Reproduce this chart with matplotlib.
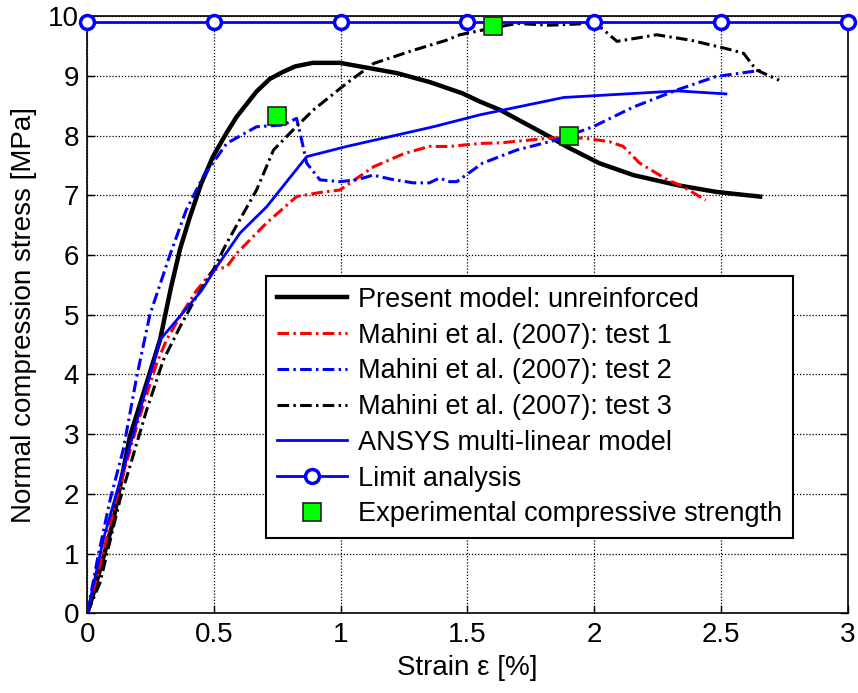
import matplotlib
matplotlib.use("Agg")
import matplotlib.pyplot as plt
import numpy as np

plt.rcParams['font.family'] = ['Liberation Sans', 'DejaVu Sans']

# Present model: unreinforced
pm_x = [0, 0.024, 0.1, 0.168, 0.23, 0.287, 0.33, 0.366, 0.405, 0.45, 0.496, 0.55, 0.59, 0.668, 0.72, 0.773, 0.82, 0.89, 0.997, 1.115, 1.22, 1.35, 1.48, 1.55, 1.63, 1.73, 1.826, 1.89, 2.02, 2.155, 2.33, 2.48, 2.565, 2.655]
pm_y = [0, 0.33, 1.5, 2.96, 3.8, 4.58, 5.45, 6.1, 6.64, 7.2, 7.65, 8.05, 8.32, 8.74, 8.95, 9.07, 9.16, 9.22, 9.22, 9.13, 9.05, 8.9, 8.71, 8.57, 8.43, 8.2, 7.98, 7.82, 7.54, 7.34, 7.17, 7.06, 7.02, 6.98]

# Mahini et al. (2007): test 1
t1_x = [0, 0.05, 0.12, 0.2, 0.274, 0.313, 0.366, 0.43, 0.497, 0.55, 0.59, 0.708, 0.826, 0.92, 0.997, 1.13, 1.25, 1.35, 1.43, 1.55, 1.63, 1.826, 1.96, 2.06, 2.115, 2.18, 2.29, 2.35, 2.44]
t1_y = [0, 0.8, 2.0, 3.2, 4.19, 4.58, 4.97, 5.4, 5.75, 5.8, 6.03, 6.54, 6.98, 7.05, 7.09, 7.48, 7.7, 7.82, 7.82, 7.87, 7.88, 7.96, 7.96, 7.9, 7.82, 7.54, 7.26, 7.15, 6.92]

# Mahini et al. (2007): test 2
t2_x = [0, 0.04, 0.09, 0.142, 0.195, 0.247, 0.326, 0.39, 0.457, 0.55, 0.668, 0.773, 0.826, 0.84, 0.866, 0.918, 0.997, 1.063, 1.128, 1.2, 1.286, 1.35, 1.39, 1.43, 1.458, 1.56, 1.695, 1.852, 1.996, 2.155, 2.33, 2.48, 2.615, 2.667]
t2_y = [0, 0.9, 1.9, 2.74, 3.96, 5.0, 6.0, 6.75, 7.31, 7.87, 8.15, 8.18, 8.29, 8.04, 7.54, 7.26, 7.23, 7.26, 7.34, 7.27, 7.21, 7.21, 7.29, 7.23, 7.23, 7.54, 7.76, 7.93, 8.15, 8.48, 8.77, 8.99, 9.07, 9.1]

# Mahini et al. (2007): test 3
t3_x = [0, 0.05, 0.129, 0.234, 0.3, 0.366, 0.43, 0.497, 0.55, 0.668, 0.735, 0.813, 0.892, 1.024, 1.13, 1.286, 1.418, 1.47, 1.56, 1.695, 1.826, 1.98, 2.03, 2.09, 2.247, 2.38, 2.52, 2.59, 2.64, 2.73]
t3_y = [0, 0.51, 1.9, 3.4, 4.24, 4.8, 5.3, 5.75, 6.2, 7.09, 7.76, 8.1, 8.43, 8.88, 9.21, 9.43, 9.6, 9.69, 9.77, 9.88, 9.85, 9.88, 9.8, 9.58, 9.69, 9.6, 9.46, 9.38, 9.1, 8.93]

# ANSYS multi-linear model
an_x = [0, 0.063, 0.287, 0.45, 0.51, 0.603, 0.708, 0.866, 1.024, 1.366, 1.55, 1.88, 2.33, 2.52]
an_y = [0, 1.23, 4.58, 5.4, 5.8, 6.37, 6.81, 7.65, 7.82, 8.15, 8.35, 8.64, 8.75, 8.70]

# Limit analysis
la_x = [0, 0.5, 1.0, 1.5, 2.0, 2.5, 3.0]
la_y = [9.9, 9.9, 9.9, 9.9, 9.9, 9.9, 9.9]

# Experimental compressive strength
ex_x = [0.75, 1.6, 1.9]
ex_y = [8.33, 9.83, 8.0]

xticks = [0, 0.5, 1, 1.5, 2, 2.5, 3]
xticklabels = ['0', '0.5', '1', '1.5', '2', '2.5', '3']
yticks = list(range(0, 11))

fig = plt.figure(figsize=(8.58, 6.93), dpi=100)
ax = fig.add_axes([0.1017, 0.115, 0.8861, 0.8615])

dd = (0, (3.8, 1.4, 0.8, 1.4))
ax.plot(pm_x, pm_y, color='black', lw=3.2, label='Present model: unreinforced', zorder=3)
ax.plot(t1_x, t1_y, color='red', lw=2.2, ls=dd, label='Mahini et al. (2007): test 1', zorder=3)
ax.plot(t2_x, t2_y, color='blue', lw=2.2, ls=dd, label='Mahini et al. (2007): test 2', zorder=3)
ax.plot(t3_x, t3_y, color='black', lw=2.2, ls=dd, label='Mahini et al. (2007): test 3', zorder=3)
ax.plot(an_x, an_y, color='blue', lw=2, label='ANSYS multi-linear model', zorder=3)
ax.plot(la_x, la_y, color='blue', lw=2, marker='o', ms=10, mfc='white', mec='blue', mew=2.5,
        label='Limit analysis', zorder=4, clip_on=False)
ax.plot(ex_x, ex_y, ls='none', marker='s', ms=12.5, mfc='#00ff00', mec='#222222', mew=1.2,
        label='Experimental compressive strength', zorder=5)

ax.set_xlim(0, 3)
ax.set_ylim(0, 10)
ax.set_xticks(xticks)
ax.set_xticklabels(xticklabels)
ax.set_yticks(yticks)
ax.grid(True, color='black', ls=(0, (1, 1.5)), lw=0.9)
ax.tick_params(direction='in', top=True, right=True, labelsize=20, length=6, width=1, pad=6)
for s in ax.spines.values():
    s.set_linewidth(1.2)

ax.set_xlabel('Strain ε [%]', fontsize=20, labelpad=5)
ax.set_ylabel('Normal compression stress [MPa]', fontsize=20, labelpad=8)

leg = ax.legend(loc='upper left', bbox_to_anchor=(0.235, 0.565), borderaxespad=0,
                fontsize=19.5, frameon=True, fancybox=False, framealpha=1, edgecolor='black',
                handlelength=2.6, handletextpad=0.4, labelspacing=0.36, borderpad=0.4)
leg.get_frame().set_linewidth(1.5)

fig.savefig('out.png', dpi=100)
